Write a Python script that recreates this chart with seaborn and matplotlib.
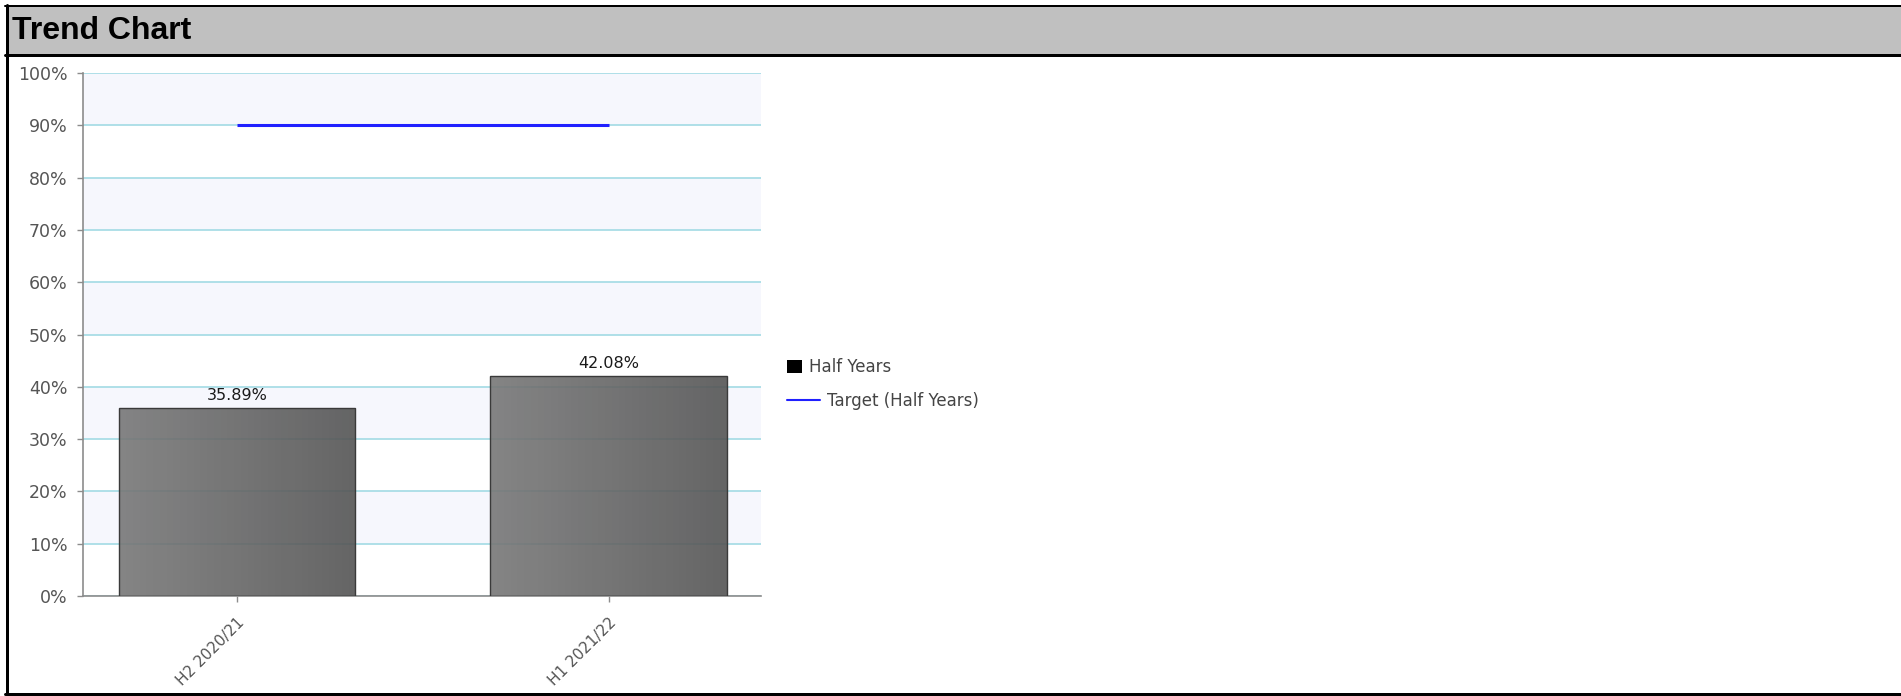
import numpy as np
import pandas as pd
import matplotlib.pyplot as plt
import seaborn as sns
from matplotlib.patches import Rectangle
from matplotlib.lines import Line2D
from matplotlib.colors import LinearSegmentedColormap
from matplotlib.ticker import MultipleLocator, FuncFormatter

# data
categories = ['H2 2020/21', 'H1 2021/22']
half_years = [35.89, 42.08]
target = [90, 90]
series_names = ['Half Years', 'Target (Half Years)']
title = 'Trend Chart'

W, H = 1901, 696
sns.set_style('white')
plt.rcParams['font.family'] = ['DejaVu Sans']

fig = plt.figure(figsize=(W / 100, H / 100), dpi=100)


def fx(x):
    return x / W


def fy(y):
    return 1 - y / H


# panel frame and grey title bar
fig.add_artist(Rectangle((fx(7), fy(54)), 1, 47 / H, transform=fig.transFigure,
                         facecolor='#c0c0c0', edgecolor='none'))
for xs, ys, lw in [((5, W), (6, 6), 2), ((5, W), (55, 55), 3),
                   ((6.5, 6.5), (5, 696), 3), ((5, W), (694, 694), 3)]:
    fig.add_artist(Line2D([fx(xs[0]), fx(xs[1])], [fy(ys[0]), fy(ys[1])],
                          transform=fig.transFigure, color='black', lw=lw * 0.72))
fig.text(fx(12), fy(31), title, fontsize=23, fontweight='bold', color='black',
         family=['Liberation Sans', 'DejaVu Sans'], va='center', ha='left')

# plot area
ax = fig.add_axes([fx(83), fy(596), (761 - 83) / W, (596 - 73) / H])
df = pd.DataFrame({'period': categories, 'value': half_years})
sns.barplot(data=df, x='period', y='value', ax=ax, width=0.637,
            color='#6e6e6e', edgecolor='#3a3a3a', linewidth=1.0)
bars = list(ax.patches)

# alternating bands + light blue gridlines
for lo in range(10, 100, 20):
    ax.axhspan(lo, lo + 10, color='#f6f7fd', zorder=0, lw=0)
ax.yaxis.grid(True, color='#a9dde6', lw=1.3)
ax.set_axisbelow(True)

# gradient fill on the bars
cmap = LinearSegmentedColormap.from_list('bar', ['#777777', '#545454'])
grad = np.linspace(0, 1, 256).reshape(1, -1)
for p in bars:
    x0, y0, w, h = p.get_x(), p.get_y(), p.get_width(), p.get_height()
    im = ax.imshow(grad, extent=[x0, x0 + w, y0, y0 + h], aspect='auto',
                   cmap=cmap, alpha=0.9, zorder=3)
    im.set_clip_path(p)
    p.set_facecolor('none')
    p.set_zorder(4)

# target line
ax.plot(range(len(categories)), target, color='#2020ff', lw=2.2, zorder=5,
        solid_capstyle='butt')

# value labels
for i, v in enumerate(half_years):
    ax.text(i, v + 1.0, f'{v:.2f}%', ha='center', va='bottom', fontsize=11.5,
            color='#1a1a1a', zorder=6)

ax.set_xlim(-0.414, 1.409)
ax.set_ylim(0, 100)
ax.yaxis.set_major_locator(MultipleLocator(10))
ax.yaxis.set_major_formatter(FuncFormatter(lambda v, _: f'{v:.0f}%'))
ax.set_xlabel('')
ax.set_ylabel('')
for s in ['top', 'right']:
    ax.spines[s].set_visible(False)
for s in ['left', 'bottom']:
    ax.spines[s].set_color('#8c8c8c')
    ax.spines[s].set_linewidth(1.2)
ax.tick_params(axis='y', length=4, width=1, color='#8c8c8c', labelcolor='#555555',
               labelsize=12.5, pad=7, left=True)
ax.tick_params(axis='x', length=4, width=1, color='#8c8c8c', labelcolor='#555555',
               labelsize=11, pad=10, bottom=True)
plt.setp(ax.get_xticklabels(), rotation=45, ha='right', va='top',
         rotation_mode='anchor')

# legend on the right of the plot
fig.add_artist(Rectangle((fx(787), fy(373)), 15 / W, 13 / H, transform=fig.transFigure,
                         facecolor='black', edgecolor='none'))
fig.text(fx(809), fy(367), series_names[0], fontsize=12, color='#444444',
         va='center', ha='left')
fig.add_artist(Line2D([fx(787), fx(820)], [fy(400), fy(400)], transform=fig.transFigure,
                      color='#2020ff', lw=1.5))
fig.text(fx(827), fy(401), series_names[1], fontsize=12, color='#444444',
         va='center', ha='left')

fig.savefig('out.png', dpi=100)
